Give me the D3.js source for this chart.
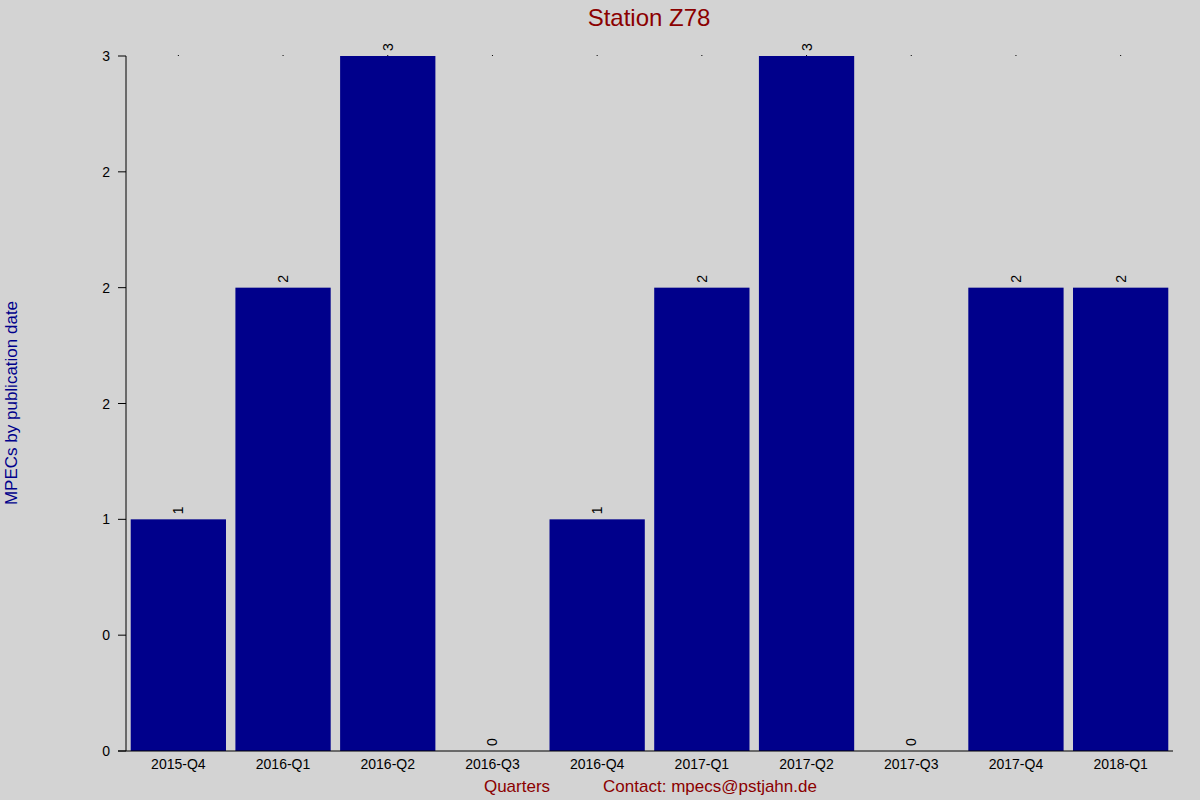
<!DOCTYPE html>
<html><head><meta charset="utf-8">
<script src="https://cdn.jsdelivr.net/npm/d3@7"></script>
<style>body{margin:0;background:#d3d3d3}</style>
</head><body>
<svg id="c" width="1200" height="800"></svg>
<script>
const categories = ["2015-Q4","2016-Q1","2016-Q2","2016-Q3","2016-Q4","2017-Q1","2017-Q2","2017-Q3","2017-Q4","2018-Q1"];
const values = [1,2,3,0,1,2,3,0,2,2];
const yTicks = [0,0.5,1,1.5,2,2.5,3];
const yTickLabels = ["0","0","1","2","2","2","3"];

const svg = d3.select("#c");
svg.append("rect").attr("width",1200).attr("height",800).attr("fill","#d3d3d3");
const L=126,R=1173,T=56,B=751;
const x = d3.scaleBand().domain(categories).range([L,R]).paddingInner(0.09).paddingOuter(0.045);
const y = d3.scaleLinear().domain([0,3]).range([B,T]);
const f = "Arial, 'Liberation Sans', sans-serif";

svg.selectAll(".bar").data(values).join("rect")
  .attr("x",(d,i)=>x(categories[i])).attr("width",x.bandwidth())
  .attr("y",d=>y(d)).attr("height",d=>B-y(d)).attr("fill","#00008b");

svg.selectAll(".dot").data(categories).join("rect")
  .attr("x",d=>x(d)+x.bandwidth()/2-0.5).attr("y",T-1).attr("width",1).attr("height",1).attr("fill","#000");

svg.selectAll(".vl").data(values).join("text")
  .attr("transform",(d,i)=>`translate(${x(categories[i])+x.bandwidth()/2+5},${y(d)-5}) rotate(-90)`)
  .attr("font-family",f).attr("font-size",14).attr("fill","#000").text(d=>d);

// y axis
svg.append("line").attr("x1",L).attr("x2",L).attr("y1",T).attr("y2",B).attr("stroke","#000");
svg.append("line").attr("x1",118).attr("x2",R).attr("y1",B).attr("y2",B).attr("stroke","#000");
yTicks.forEach((t,i)=>{
  svg.append("line").attr("x1",118).attr("x2",L).attr("y1",y(t)).attr("y2",y(t)).attr("stroke","#000");
  svg.append("text").attr("x",110).attr("y",y(t)+5).attr("text-anchor","end")
    .attr("font-family",f).attr("font-size",14).text(yTickLabels[i]);
});
categories.forEach(c=>{
  svg.append("text").attr("x",x(c)+x.bandwidth()/2).attr("y",769).attr("text-anchor","middle")
    .attr("font-family",f).attr("font-size",14).text(c);
});
svg.append("text").attr("x",649).attr("y",26).attr("text-anchor","middle")
  .attr("font-family",f).attr("font-size",24).attr("fill","#8b0000").text("Station Z78");
svg.append("text").attr("x",517).attr("y",792).attr("text-anchor","middle")
  .attr("font-family",f).attr("font-size",17).attr("fill","#8b0000").text("Quarters");
svg.append("text").attr("x",710).attr("y",792).attr("text-anchor","middle")
  .attr("font-family",f).attr("font-size",17).attr("fill","#8b0000").text("Contact: mpecs@pstjahn.de");
svg.append("text").attr("transform","translate(17,403) rotate(-90)").attr("text-anchor","middle")
  .attr("font-family",f).attr("font-size",17).attr("fill","#00008b").text("MPECs by publication date");
</script>
</body></html>
